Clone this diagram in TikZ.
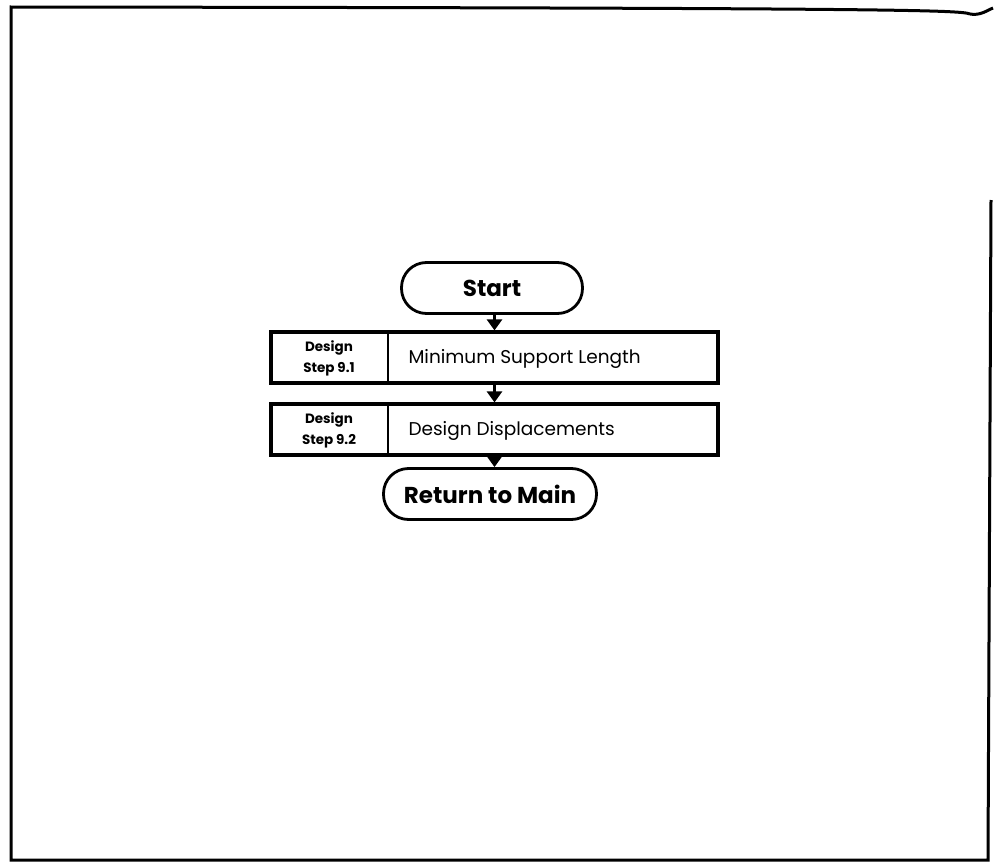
\documentclass[tikz,border=0pt]{standalone}
\usepackage{fontspec}
\setmainfont{Poppins}
\usetikzlibrary{arrows.meta}
\begin{document}
\begin{tikzpicture}[x=1pt,y=-1pt,
  term/.style={draw,line width=2.8pt,rounded corners=25pt,minimum height=51pt,inner sep=0pt,font=\fontsize{23}{26}\selectfont\bfseries},
  stepbox/.style={draw,line width=3.2pt,minimum height=51pt,inner sep=0pt},
  lbl/.style={font=\fontsize{13.5}{21}\selectfont\bfseries,align=center},
  txt/.style={font=\fontsize{18.5}{20}\selectfont,anchor=west},
  conn/.style={line width=2.8pt,-{Triangle[length=11pt,width=15pt]}},
  frame/.style={line width=3pt}]
\useasboundingbox (0,0) rectangle (994,862);
% frame
\draw[frame] (970,14) .. controls (960,10) and (900,8) .. (11,7) -- (11,860) -- (988,860) -- (991,200);
\draw[frame] (970,14) .. controls (980,16) and (988,10) .. (993,8);
% nodes
\node[term,minimum width=181pt] (start) at (492,288) {Start};
\node[stepbox,minimum width=447pt] (s1) at (494.5,357.5) {};
\node[stepbox,minimum width=447pt] (s2) at (494.5,429.5) {};
\node[term,minimum width=213pt] (ret) at (490,494) {Return to Main};
\coordinate (d1a) at (388,332);
\coordinate (d1b) at (388,383);
\coordinate (d2a) at (388,404);
\coordinate (d2b) at (388,455);
\draw[line width=2.4pt] (d1a) -- (d1b);
\draw[line width=2.4pt] (d2a) -- (d2b);
\node[lbl] (l1) at (329,358) {Design\\Step 9.1};
\node[lbl] (l2) at (329,430) {Design\\Step 9.2};
\node[txt] (t1) at (405,359) {Minimum Support Length};
\node[txt] (t2) at (405,431) {Design Displacements};
% connectors
\draw[conn] (start.south -| s1.north) -- (s1.north);
\draw[conn] (s1.south) -- (s2.north);
\draw[conn] (s2.south) -- (s2.south |- ret.north);
\end{tikzpicture}
\end{document}
